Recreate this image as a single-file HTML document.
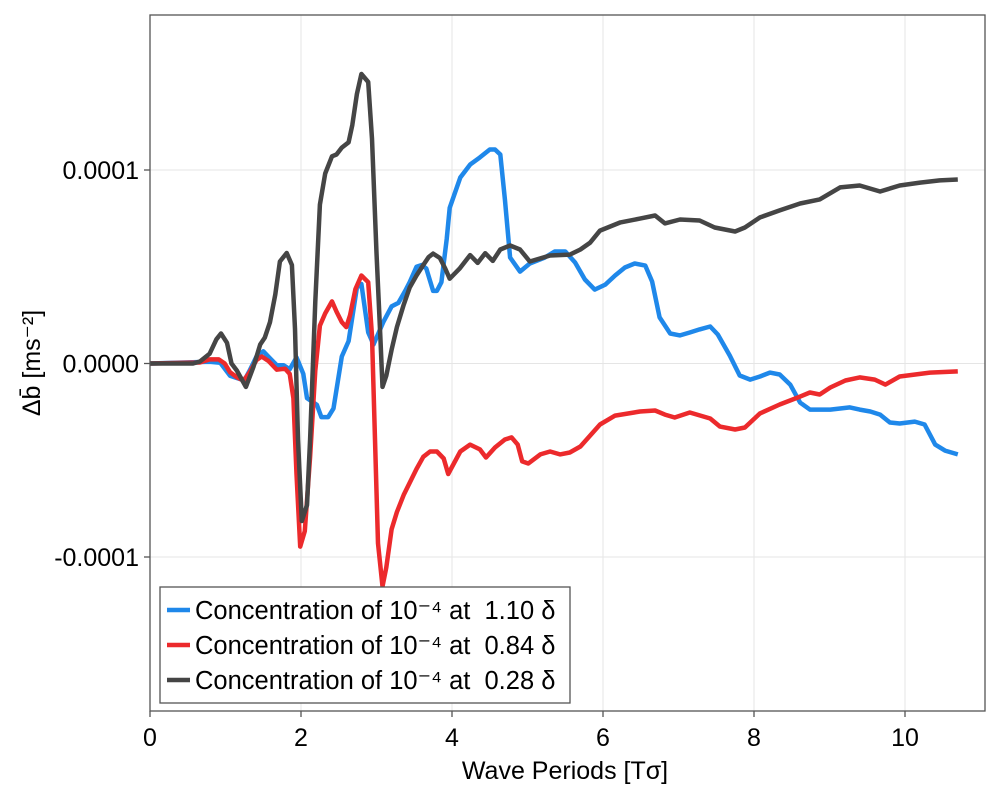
<!DOCTYPE html>
<html><head><meta charset="utf-8"><style>
body{margin:0;background:#fff;font-family:"Liberation Sans",sans-serif}
svg{display:block}
text{font-family:"Liberation Sans","DejaVu Sans",sans-serif;fill:#000;white-space:pre}
</style></head><body>
<svg id="chart" width="1000" height="800" viewBox="0 0 1000 800"></svg>
<script>
const xTicks=[0,2,4,6,8,10];
const yTicks=[-1,0,1];
const yTickLabels=["-0.0001","0.0000","0.0001"];
const seriesNames=["Concentration of 10\u207B\u2074 at  1.10 \u03B4","Concentration of 10\u207B\u2074 at  0.84 \u03B4","Concentration of 10\u207B\u2074 at  0.28 \u03B4"];
const blueX=[0,0.79,0.93,1.06,1.19,1.26,1.32,1.41,1.5,1.59,1.68,1.77,1.85,1.94,2.03,2.08,2.21,2.27,2.36,2.43,2.54,2.63,2.74,2.8,2.89,2.96,3.09,3.2,3.29,3.38,3.44,3.53,3.6,3.66,3.75,3.8,3.86,3.93,3.97,4.11,4.24,4.37,4.5,4.57,4.64,4.7,4.77,4.9,5.03,5.23,5.36,5.5,5.63,5.76,5.89,6.03,6.16,6.29,6.42,6.56,6.65,6.75,6.89,7.02,7.15,7.28,7.42,7.52,7.68,7.81,7.95,8.08,8.21,8.34,8.48,8.61,8.74,9.01,9.27,9.4,9.54,9.67,9.8,9.93,10.13,10.26,10.4,10.53,10.7];
const blueY=[0,0.009,0.004,-0.063,-0.08,-0.08,-0.036,0.036,0.063,0.027,-0.009,-0.009,-0.03,0.032,-0.054,-0.179,-0.214,-0.277,-0.277,-0.232,0.036,0.116,0.393,0.411,0.161,0.098,0.214,0.295,0.313,0.375,0.42,0.5,0.509,0.491,0.375,0.375,0.42,0.643,0.804,0.961,1.028,1.065,1.106,1.106,1.08,0.848,0.548,0.475,0.517,0.548,0.579,0.579,0.522,0.434,0.382,0.408,0.455,0.496,0.517,0.506,0.424,0.238,0.155,0.145,0.16,0.176,0.191,0.15,0.041,-0.062,-0.083,-0.067,-0.047,-0.057,-0.109,-0.202,-0.238,-0.238,-0.227,-0.238,-0.248,-0.264,-0.305,-0.31,-0.3,-0.315,-0.419,-0.45,-0.47];
const redX=[0,0.66,0.79,0.91,0.99,1.06,1.15,1.24,1.32,1.41,1.48,1.57,1.68,1.79,1.85,1.9,1.94,1.99,2.05,2.12,2.19,2.25,2.32,2.41,2.47,2.54,2.6,2.65,2.72,2.8,2.89,2.94,2.98,3.02,3.08,3.13,3.2,3.27,3.36,3.44,3.53,3.62,3.71,3.8,3.89,3.95,4.11,4.24,4.37,4.45,4.57,4.7,4.79,4.87,4.93,5.01,5.17,5.3,5.43,5.56,5.7,5.83,5.96,6.16,6.49,6.69,6.82,6.95,7.15,7.42,7.55,7.75,7.88,8.08,8.34,8.61,8.74,8.87,9.01,9.21,9.4,9.6,9.74,9.93,10.33,10.7];
const redY=[0,0.005,0.021,0.021,0,-0.045,-0.071,-0.089,-0.045,0.018,0.036,0.013,-0.032,-0.027,-0.054,-0.179,-0.571,-0.946,-0.866,-0.482,-0.036,0.196,0.259,0.321,0.268,0.214,0.188,0.25,0.384,0.455,0.42,0.143,-0.393,-0.929,-1.152,-1.054,-0.857,-0.768,-0.679,-0.616,-0.545,-0.482,-0.455,-0.455,-0.491,-0.571,-0.455,-0.419,-0.444,-0.486,-0.434,-0.393,-0.382,-0.419,-0.506,-0.517,-0.47,-0.455,-0.47,-0.46,-0.429,-0.372,-0.315,-0.269,-0.248,-0.243,-0.264,-0.279,-0.253,-0.284,-0.326,-0.341,-0.331,-0.258,-0.212,-0.171,-0.15,-0.16,-0.124,-0.088,-0.072,-0.083,-0.109,-0.067,-0.047,-0.041];
const blackX=[0,0.57,0.66,0.79,0.88,0.94,1.02,1.08,1.15,1.27,1.37,1.46,1.52,1.59,1.66,1.72,1.81,1.88,1.92,1.96,2.01,2.08,2.12,2.19,2.25,2.32,2.41,2.47,2.54,2.63,2.68,2.74,2.8,2.89,2.94,3.0,3.05,3.08,3.13,3.2,3.27,3.36,3.44,3.53,3.62,3.69,3.75,3.84,3.91,3.97,4.1,4.24,4.34,4.44,4.54,4.64,4.77,4.9,5.03,5.3,5.56,5.7,5.83,5.96,6.23,6.49,6.69,6.82,7.02,7.28,7.48,7.75,7.88,8.08,8.34,8.61,8.87,9.14,9.4,9.67,9.93,10.2,10.46,10.7];
const blackY=[0,0,0.01,0.05,0.125,0.155,0.107,0,-0.036,-0.121,-0.018,0.098,0.134,0.214,0.357,0.527,0.571,0.509,0.179,-0.393,-0.814,-0.732,-0.393,0.321,0.821,0.982,1.071,1.08,1.116,1.143,1.232,1.393,1.496,1.455,1.161,0.571,0.143,-0.121,-0.063,0.071,0.188,0.304,0.393,0.455,0.509,0.55,0.568,0.545,0.491,0.438,0.49,0.56,0.52,0.57,0.53,0.589,0.61,0.589,0.527,0.558,0.563,0.589,0.625,0.687,0.729,0.749,0.765,0.724,0.744,0.739,0.703,0.682,0.703,0.755,0.791,0.827,0.848,0.91,0.92,0.889,0.92,0.935,0.946,0.951];

const NS="http://www.w3.org/2000/svg";
const svg=document.getElementById("chart");
const L=150,R=985,T=15,B=711;
function sx(v){return L+v*75.5;}
function sy(v){return 363.5-v*193.5;}
function mk(tag,attrs,parent){const e=document.createElementNS(NS,tag);for(const k in attrs)e.setAttribute(k,attrs[k]);(parent||svg).appendChild(e);return e;}

const grid=mk("g",{});


xTicks.forEach(t=>{mk("line",{x1:sx(t),x2:sx(t),y1:T,y2:B,stroke:"#e5e5e5","stroke-width":1},grid);});
yTicks.forEach(t=>{mk("line",{x1:L,x2:R,y1:sy(t),y2:sy(t),stroke:"#e5e5e5","stroke-width":1},grid);});

const colors=["#1f88ea","#ec2a2c","#454545"];
const xs=[blueX,redX,blackX], ys=[blueY,redY,blackY];
const names=["series-blue-1-10","series-red-0-84","series-black-0-28"];
[0,1,2].forEach(i=>{
  const d=xs[i].map((x,j)=>(j?"L":"M")+sx(x).toFixed(1)+","+sy(ys[i][j]).toFixed(1)).join("");
  const p=mk("path",{d:d,fill:"none",stroke:colors[i],"stroke-width":4.5,"stroke-linejoin":"round"});
  
  
});

const frame=mk("rect",{x:L,y:T,width:R-L,height:B-T,fill:"none",stroke:"#555","stroke-width":1.3});



const xt=mk("g",{});


xTicks.forEach(t=>{
  mk("line",{x1:sx(t),x2:sx(t),y1:B,y2:B+6,stroke:"#555","stroke-width":1.3},xt);
  const tx=mk("text",{x:sx(t),y:B+35,"text-anchor":"middle","font-size":25},xt);tx.textContent=t;
});
const yt=mk("g",{});


yTicks.forEach((t,i)=>{
  mk("line",{x1:L-6,x2:L,y1:sy(t),y2:sy(t),stroke:"#555","stroke-width":1.3},yt);
  const tx=mk("text",{x:L-11,y:sy(t)+9,"text-anchor":"end","font-size":25},yt);tx.textContent=yTickLabels[i];
});

const xl=mk("text",{x:565,y:779,"text-anchor":"middle","font-size":25});
xl.textContent="Wave Periods [T\u03C3]";


const yl=mk("text",{x:0,y:0,"text-anchor":"middle","font-size":25,transform:"translate(40,363) rotate(-90)"});
yl.textContent="\u0394b\u0304 [ms\u207B\u00B2]";



const lg=mk("g",{});


mk("rect",{x:160,y:587,width:410,height:116,fill:"#fff",stroke:"#555","stroke-width":1.3},lg);
seriesNames.forEach((n,i)=>{
  const y=610+i*35;
  const e=mk("g",{},lg);
  
  
  mk("line",{x1:167,x2:190,y1:y,y2:y,stroke:colors[i],"stroke-width":4.5},e);
  const t=mk("text",{x:195,y:y+9,"font-size":25.5},e);t.textContent=n;
});
</script>
</body></html>
